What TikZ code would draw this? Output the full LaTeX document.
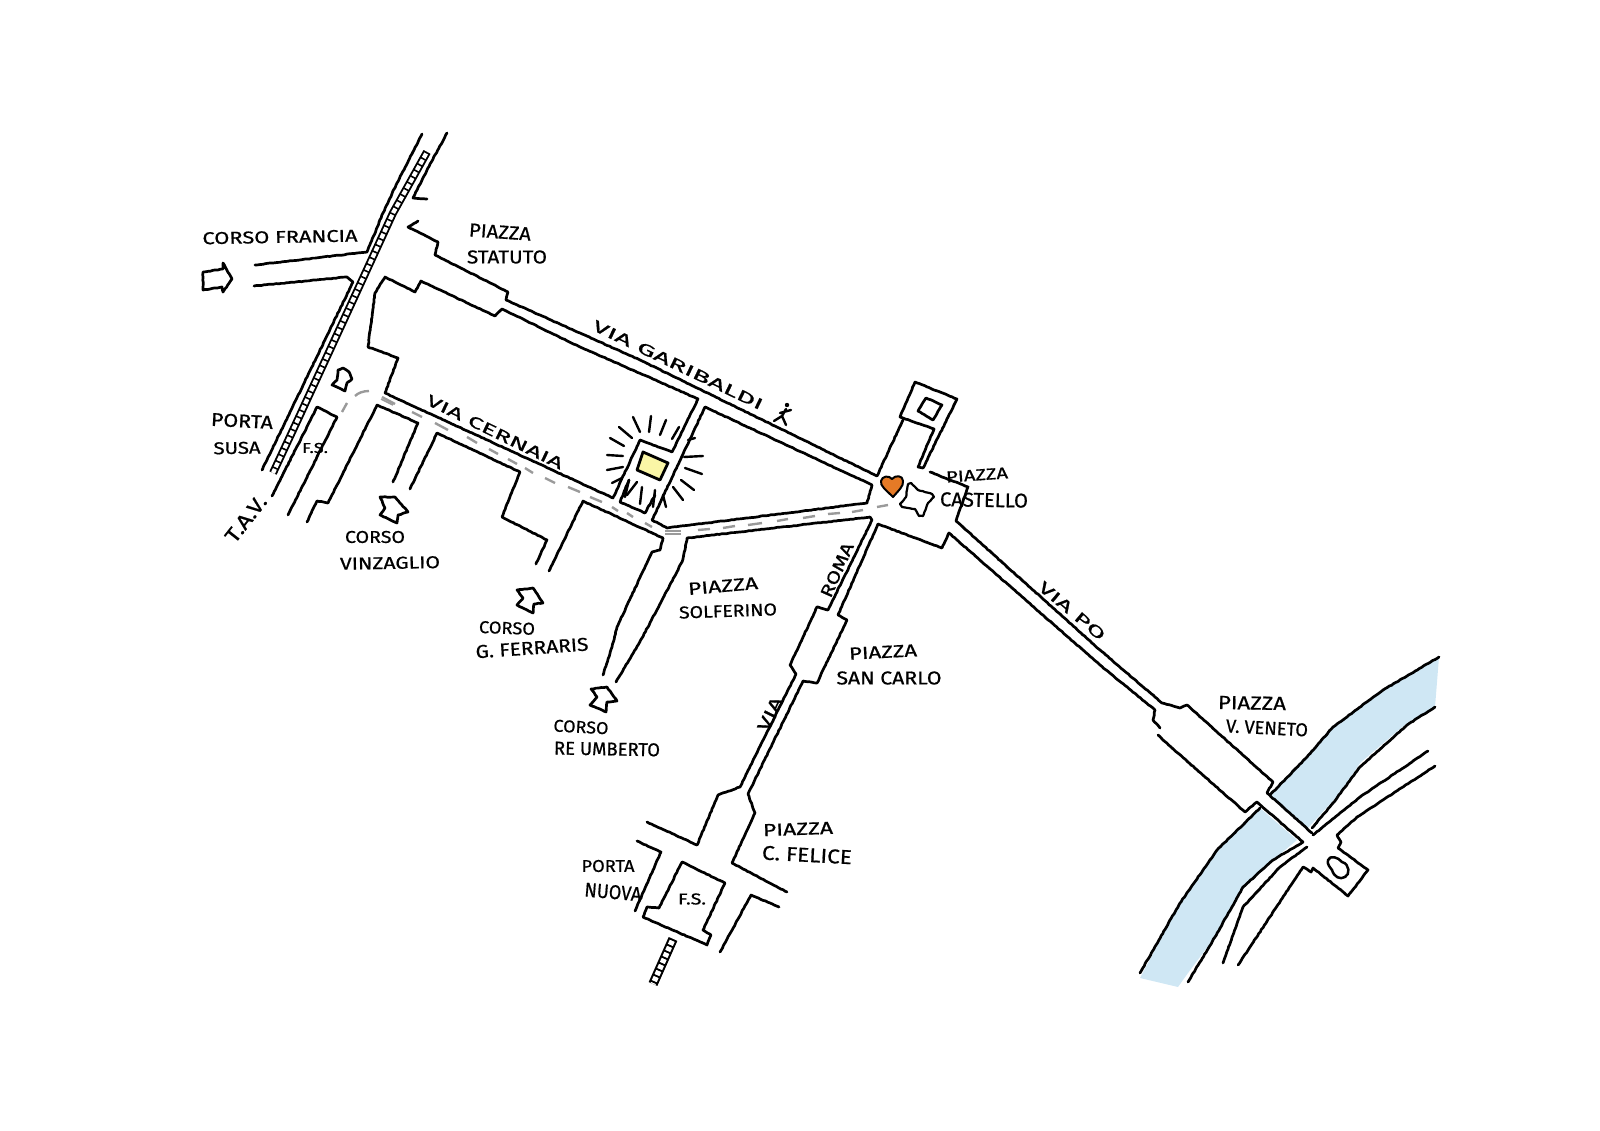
\documentclass[tikz,border=0pt]{standalone}
\usepackage{fontspec}
\usepackage{graphicx}
\setmainfont[FakeBold=0.7]{Fira Sans}
\usetikzlibrary{decorations.pathmorphing}
\pgfmathsetseed{7}
\definecolor{riverblue}{HTML}{CFE7F4}
\definecolor{spotyellow}{HTML}{FAF6A6}
\definecolor{heartorange}{HTML}{E57A26}
\definecolor{routegray}{HTML}{9A9A9A}
\tikzset{
  ink/.style={draw=black,line width=2.7pt,line join=round,line cap=round,
    decorate,decoration={random steps,segment length=2.5pt,amplitude=.3pt}},
  plain/.style={draw=black,line width=2.5pt,line join=round,line cap=round},
  ray/.style={draw=black,line width=2.4pt,line cap=round},
  route/.style={draw=routegray,line width=2.4pt,line cap=butt},
  lab/.style={inner sep=0pt,anchor=center,text=black},
}
% name, x, y, rotation, width, height, text
\newcommand{\lbl}[7]{\node[lab,rotate=#4] (#1) at (#2,#3) {\resizebox{#5pt}{#6pt}{#7}};}
\begin{document}
\begin{tikzpicture}[x=1pt,y=-1pt]
\useasboundingbox (0,0) rectangle (1600,1131);
% river
\fill[riverblue] (1270,797) -- (1307,757) -- (1333,727) -- (1383,690) -- (1439,657) -- (1435,707) -- (1407,723) -- (1360,763) -- (1340,793) -- (1308,828) -- cycle;
\fill[riverblue] (1260,808) -- (1217,850) -- (1180,903) -- (1140,978) -- (1178,987) -- (1188,973) -- (1215,937) -- (1243,887) -- (1273,860) -- (1297,840) -- cycle;
% railway north-south
\draw[line width=8pt,black] (427,152) -- (393,213) -- (353,300) -- (300,415) -- (273,473);
\draw[line width=4.2pt,white] (427,152) -- (393,213) -- (353,300) -- (300,415) -- (273,473);
\draw[line width=6pt,black,dash pattern=on 1.6pt off 5.4pt] (427,152) -- (393,213) -- (353,300) -- (300,415) -- (273,473);
% railway at Porta Nuova
\draw[line width=9.5pt,black] (673,939) -- (653,984);
\draw[line width=5.4pt,white] (673,939) -- (653,984);
\draw[line width=7pt,black,dash pattern=on 1.8pt off 4.8pt] (673,939) -- (653,984);
% Corso Francia and rail edges
\path[ink] (422,134) -- (397,183) -- (383,213) -- (367,252) -- (255,265);
\path[ink] (254,286) -- (347,277) -- (353,282) -- (262,470);
\path[ink] (447,133) -- (427,170) -- (413,198) -- (427,199);
% Piazza Statuto, Via Garibaldi
\path[ink] (418,221) -- (408,227) -- (438,242) -- (435,255) -- (508,292) -- (506,300) -- (580,333) -- (640,360) -- (877,476) -- (903,420);
\path[ink] (903,418) -- (900,417) -- (915,382) -- (957,399) -- (923,468) -- (918,467) -- (934,429) -- (903,418);
\path[ink] (918,411) -- (926,398) -- (942,405) -- (933,420) -- cycle;
\path[ink] (385,277) -- (415,292) -- (421,281) -- (495,316) -- (502,309) -- (580,347) -- (610,360) -- (698,399) -- (672,452) -- (640,440) -- (613,498) -- (385,393) -- (398,358) -- (368,347) -- (375,293) -- cycle;
% triangle block
\path[ink] (705,407) -- (652,520) -- (667,528) -- (867,503) -- (872,485) -- cycle;
% inner court
\path[ink] (629,480) -- (620,502) -- (645,513) -- (655,495);
% Porta Susa block
\path[ink] (272,496) -- (317,407) -- (337,417) -- (288,515);
\path[ink] (343,368) -- (349,372) -- (352,379) -- (347,383) -- (345,391) -- (332,385) -- (337,380) -- (338,370) -- cycle;
% south of Via Cernaia
\path[ink] (307,522) -- (317,501) -- (328,503) -- (377,405) -- (418,423) -- (393,482);
\path[ink] (410,489) -- (437,433) -- (520,472) -- (502,517) -- (547,540) -- (536,564);
\path[ink] (549,571) -- (583,501) -- (663,538) -- (660,550) -- (652,552) -- (617,627) -- (612,647) -- (603,675);
\path[ink] (616,682) -- (632,655) -- (642,638) -- (682,562) -- (685,550) -- (687,538) -- (870,517) -- (872,520) -- (828,610) -- (817,607) -- (790,665) -- (796,674) -- (740,787) -- (718,795) -- (697,845) -- (647,822);
\path[ink] (878,524) -- (838,615) -- (847,620) -- (817,683) -- (803,681) -- (748,794) -- (755,813) -- (732,863) -- (787,892);
% Piazza Castello, Via Po
\path[ink] (878,524) -- (942,548) -- (949,533) -- (1100,665) -- (1155,710) -- (1153,720) -- (1160,728);
\path[ink] (1158,735) -- (1163,740) -- (1245,812) -- (1257,802) -- (1303,842);
\path[ink] (930,472) -- (968,487) -- (956,521) -- (1100,650) -- (1162,703) -- (1180,708) -- (1187,705) -- (1273,782) -- (1267,793) -- (1312,833);
% river banks
\path[ink] (1270,795) -- (1307,757) -- (1333,727) -- (1383,690) -- (1439,657);
\path[ink] (1312,828) -- (1333,803) -- (1360,767) -- (1407,725) -- (1435,707);
\path[ink] (1313,835) -- (1360,797) -- (1428,751);
\path[ink] (1260,808) -- (1217,850) -- (1180,903) -- (1140,973);
\path[ink] (1303,842) -- (1273,860) -- (1243,887) -- (1215,937) -- (1188,982);
\path[ink] (1307,847) -- (1280,867) -- (1243,907) -- (1223,963);
% Piazza V. Veneto far bank
\path[ink] (1435,766) -- (1357,817) -- (1337,835) -- (1341,842) -- (1338,848) -- (1368,870) -- (1348,896) -- (1313,868) -- (1311,872) -- (1303,867) -- (1238,965);
\path[plain] (1328,860) .. controls (1330,855) and (1338,857) .. (1342,862) .. controls (1350,864) and (1350,875) .. (1345,877) .. controls (1340,880) and (1334,877) .. (1332,870) .. controls (1330,867) and (1327,865) .. (1328,860) -- cycle;
% Porta Nuova
\path[ink] (682,862) -- (725,883) -- (703,930) -- (711,935) -- (707,945) -- (643,917) -- (647,907) -- (659,908) -- cycle;
\path[ink] (637,841) -- (661,852) -- (635,911);
\path[ink] (779,907) -- (751,895) -- (720,952);
% arrows
\path[ink] (203,272) -- (223,269) -- (223,263) -- (232,279) -- (223,292) -- (222,287) -- (203,290) -- cycle;
\path[ink] (380,497) -- (395,497) -- (408,512) -- (398,515) -- (397,523) -- (380,515) -- (385,508) -- cycle;
\path[ink] (517,590) -- (533,588) -- (543,603) -- (534,604) -- (533,613) -- (517,605) -- (523,598) -- cycle;
\path[ink] (591,689) -- (607,687) -- (617,701) -- (607,702) -- (606,712) -- (590,705) -- (597,697) -- cycle;
% yellow spot and rays
\filldraw[fill=spotyellow,draw=black,line width=2.8pt,line join=round] (643,452) -- (668,463) -- (660,480) -- (637,470) -- cycle;
\foreach \a/\b/\c/\d in {633/417/640/432,651/416/649/432,666/420/660/435,679/427/672/439,695/438/688/440,703/456/684/457,702/474/685/468,694/490/681/480,683/500/673/487,666/507/663/495,653/507/655/490,640/504/642/487,625/497/629/480,627/495/637/482,612/483/622/478,607/470/623/467,607/455/623/456,610/438/624/446,619/427/632/438}
  {\draw[ray] (\a,\b) -- (\c,\d);}
% heart
\filldraw[fill=heartorange,draw=black,line width=2pt,line join=round] (893,497) .. controls (886,490) and (880,486) .. (881,481) .. controls (882,476) and (889,475) .. (892,479) .. controls (895,475) and (903,475) .. (903,481) .. controls (904,486) and (898,491) .. (893,497) -- cycle;
% fortress of Piazza Castello
\path[ink,line width=2.2pt] (908,484) -- (911,483) -- (918,490) -- (932,494) -- (934,497) -- (928,503) -- (923,516) -- (919,516) -- (915,509) -- (902,507) -- (900,504) -- (906,497) -- (908,484);
% walker
\fill (787,405) circle (2.2pt);
\draw[ray] (791,410) -- (780,413) (786,409) -- (782,416) -- (774,421) (782,416) -- (786,425);
% gray route dashes
\foreach \a/\b/\c/\d in {382/397/395/404,412/412/422/417,435/423/448/430,467/437/477/443,489/449/498/454,508/459/517/464,525/468/533/473,545/478/555/483,568/487/580/492,590/497/602/502,612/507/618/511,627/513/633/517,645/523/652/527,698/530/710/529,723/528/735/526,748/525/762/523,777/521/788/519,803/518/815/516,828/514/840/513,852/512/863/510,877/507/888/505}
  {\draw[route] (\a,\b) -- (\c,\d);}
\draw[route,line width=1.6pt] (381,399) -- (393,405);
\draw[route,line width=1.6pt] (665,531) -- (681,531) (665,534) -- (681,534);
\draw[route] (342,412) -- (347,403);
\draw[route] (355,396) .. controls (358,393) and (363,391) .. (369,391);
% labels
\lbl{tA}{280}{237}{1}{155}{12}{CORSO FRANCIA}
\lbl{tB}{500}{232}{-4}{62}{13}{PIAZZA}
\lbl{tC}{507}{257}{0}{80}{13}{STATUTO}
\lbl{tD}{678}{365}{-25.6}{187}{11}{VIA GARIBALDI}
\lbl{tE}{495}{432}{-26}{150}{11}{VIA CERNAIA}
\lbl{tF}{242}{421}{-3}{62}{13}{PORTA}
\lbl{tG}{237}{448}{1}{47}{12}{SUSA}
\lbl{tH}{315}{448}{0}{26}{10}{F.S.}
\lbl{tI}{246}{519}{52}{54}{14}{T.A.V.}
\lbl{tJ}{375}{537}{0}{60}{12}{CORSO}
\lbl{tK}{390}{563}{1}{100}{12}{VINZAGLIO}
\lbl{tL}{507}{628}{-2}{56}{12}{CORSO}
\lbl{tM}{532}{648}{4}{113}{13}{G. FERRARIS}
\lbl{tN}{581}{727}{-3}{55}{12}{CORSO}
\lbl{tO}{607}{749}{-1}{106}{13}{RE UMBERTO}
\lbl{tP}{723}{586}{5}{70}{12}{PIAZZA}
\lbl{tQ}{728}{611}{2}{98}{12}{SOLFERINO}
\lbl{tR}{837}{570}{66}{58}{12}{ROMA}
\lbl{tS}{770}{714}{64}{36}{12}{VIA}
\lbl{tT}{883}{652}{3}{68}{12}{PIAZZA}
\lbl{tU}{889}{678}{0}{105}{13}{SAN CARLO}
\lbl{tV}{798}{829}{2}{70}{12}{PIAZZA}
\lbl{tW}{807}{855}{-3}{90}{14}{C. FELICE}
\lbl{tX}{608}{866}{0}{53}{12}{PORTA}
\lbl{tY}{613}{892}{-5}{57}{14}{NUOVA}
\lbl{tZ}{692}{899}{0}{28}{11}{F.S.}
\lbl{tAa}{977}{475}{4}{62}{11}{PIAZZA}
\lbl{tAb}{984}{500}{-1}{88}{14}{CASTELLO}
\lbl{tAc}{1072}{611}{-40}{82}{11}{VIA PO}
\lbl{tAd}{1252}{703}{-1}{68}{13}{PIAZZA}
\lbl{tAe}{1267}{728}{-3}{82}{13}{V. VENETO}
\end{tikzpicture}
\end{document}
